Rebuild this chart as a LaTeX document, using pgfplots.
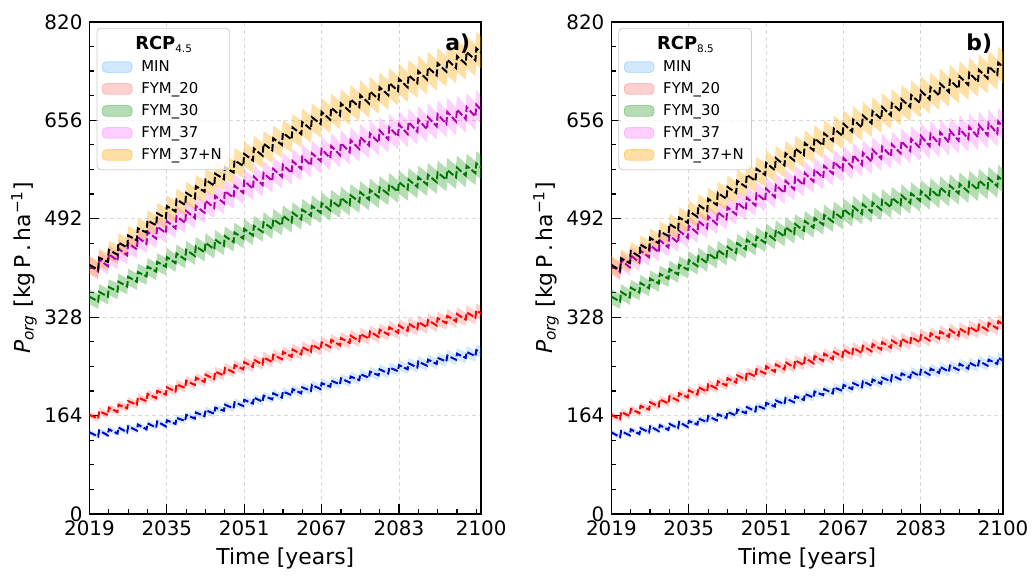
\documentclass[border=0pt]{standalone}
\usepackage{fontspec}
\setmainfont{DejaVu Sans}
\usepackage{pgfplots}
\usepackage{pgfplotstable}
\pgfplotsset{compat=1.18}
\usepgfplotslibrary{fillbetween}

\definecolor{bMIN}{HTML}{1E90FF}
\definecolor{bF20}{HTML}{FF0000}
\definecolor{bF30}{HTML}{2CA02C}
\definecolor{bF37}{HTML}{FF00FF}
\definecolor{bF37N}{HTML}{FFA500}
\definecolor{lMIN}{HTML}{0008C8}
\definecolor{lF20}{HTML}{FF0000}
\definecolor{lF30}{HTML}{007800}
\definecolor{lF37}{HTML}{B000B0}
\definecolor{lF37N}{HTML}{000000}

% mean of the ensemble, P_org in kg P/ha
\pgfplotstableread{
t mn f20 f30 f37 f37n
2019 136 165 362 415 415
2020.8 129 159 354 404 407
2021 139 171 370 424 427
2022.8 131 165 362 413 420
2023 141 177 378 433 440
2024.8 134 170 371 422 432
2025 144 182 387 442 452
2026.8 136 176 379 431 444
2027 146 188 395 451 464
2028.8 139 182 387 441 456
2029 149 194 403 461 476
2030.8 141 188 396 450 469
2031 151 200 412 470 489
2032.8 144 193 404 459 481
2033 154 205 420 479 501
2034.8 146 199 412 468 493
2035 156 211 428 488 513
2036.8 150 204 418 476 504
2037 160 216 434 496 524
2038.8 155 210 424 485 515
2039 165 222 440 505 535
2040.8 159 215 430 493 526
2041 169 227 446 513 546
2042.8 163 220 436 502 537
2043 173 232 452 522 557
2044.8 167 225 441 510 547
2045 177 237 457 530 567
2046.8 172 231 447 518 558
2047 182 243 463 538 578
2048.8 176 236 453 527 569
2049 186 248 469 547 589
2050.8 180 241 459 535 580
2051 190 253 475 555 600
2052.8 184 245 464 542 589
2053 194 257 480 562 609
2054.8 187 249 470 548 597
2055 197 261 486 568 617
2056.8 191 253 475 555 606
2057 201 265 491 575 626
2058.8 194 258 481 562 615
2059 204 270 497 582 635
2060.8 198 262 486 568 624
2061 208 274 502 588 644
2062.8 201 266 491 575 633
2063 211 278 507 595 653
2064.8 205 270 497 581 641
2065 215 282 513 601 661
2066.8 208 274 502 588 650
2067 218 286 518 608 670
2068.8 212 278 506 593 657
2069 222 290 522 613 677
2070.8 216 281 511 598 664
2071 226 293 527 618 684
2072.8 219 285 515 603 671
2073 229 297 531 623 691
2074.8 223 288 520 608 678
2075 233 300 536 628 698
2076.8 227 292 524 614 684
2077 237 304 540 634 704
2078.8 231 295 528 619 691
2079 241 307 544 639 711
2080.8 234 299 533 624 698
2081 244 311 549 644 718
2082.8 238 302 537 629 705
2083 248 314 553 649 725
2084.8 241 305 541 633 711
2085 251 317 557 653 731
2086.8 244 308 545 637 718
2087 254 320 561 657 738
2088.8 247 311 549 641 724
2089 257 323 565 661 744
2090.8 250 314 553 646 731
2091 260 326 569 666 751
2092.8 254 318 557 650 737
2093 264 330 573 670 757
2094.8 257 321 561 654 743
2095 267 333 577 674 763
2096.8 260 324 564 658 750
2097 270 336 580 678 770
2098.8 263 327 568 662 756
2099 273 339 584 682 776
2100.8 266 330 572 666 763
}\tabA

\pgfplotstableread{
t mn f20 f30 f37 f37n
2019 136 165 362 415 415
2020.8 128 158 354 403 406
2021 138 170 370 423 426
2022.8 131 163 361 411 418
2023 141 175 377 431 438
2024.8 133 168 369 419 429
2025 143 180 385 439 449
2026.8 136 174 376 428 440
2027 146 186 392 448 460
2028.8 138 179 384 436 451
2029 148 191 400 456 471
2030.8 140 184 392 444 463
2031 150 196 408 464 483
2032.8 143 189 399 452 474
2033 153 201 415 472 494
2034.8 145 194 407 460 485
2035 155 206 423 480 505
2036.8 149 199 413 468 495
2037 159 211 429 488 515
2038.8 153 204 418 476 505
2039 163 216 434 496 525
2040.8 156 209 424 483 515
2041 166 221 440 503 535
2042.8 160 214 429 491 525
2043 170 226 445 511 545
2044.8 164 219 435 499 535
2045 174 231 451 519 555
2046.8 168 224 441 507 545
2047 178 236 457 527 565
2048.8 171 229 446 514 555
2049 181 241 462 534 575
2050.8 175 234 452 522 565
2051 185 246 468 542 585
2052.8 179 237 457 528 573
2053 189 249 473 548 593
2054.8 183 241 462 535 581
2055 193 253 478 555 601
2056.8 186 244 467 541 589
2057 196 256 483 561 609
2058.8 190 248 472 548 598
2059 200 260 488 568 618
2060.8 194 251 477 554 606
2061 204 263 493 574 626
2062.8 198 255 482 560 614
2063 208 267 498 580 634
2064.8 201 258 487 567 622
2065 211 270 503 587 642
2066.8 205 262 492 573 630
2067 215 274 508 593 650
2068.8 208 265 496 578 637
2069 218 277 512 598 657
2070.8 211 268 500 582 644
2071 221 280 516 602 664
2072.8 214 271 503 587 651
2073 224 283 519 607 671
2074.8 217 274 507 592 658
2075 227 286 523 612 678
2076.8 221 277 511 596 664
2077 231 289 527 616 684
2078.8 224 280 515 601 671
2079 234 292 531 621 691
2080.8 227 283 518 605 678
2081 237 295 534 625 698
2082.8 230 286 522 610 685
2083 240 298 538 630 705
2084.8 232 289 525 613 691
2085 242 301 541 633 711
2086.8 235 292 528 616 697
2087 245 304 544 636 717
2088.8 237 295 531 619 703
2089 247 307 547 639 723
2090.8 240 297 534 622 709
2091 250 309 550 642 729
2092.8 242 300 537 625 715
2093 252 312 553 645 735
2094.8 245 303 540 628 720
2095 255 315 556 648 740
2096.8 247 306 543 631 726
2097 257 318 559 651 746
2098.8 250 309 546 634 732
2099 260 321 562 654 752
2100.8 252 312 549 637 738
}\tabB

% #1 table, #2 column, #3 band colour, #4 band opacity, #5 line colour
\newcommand{\series}[5]{%
  \addplot[draw=none, forget plot, name path=#2H] table[x=t, y expr=\thisrow{#2}*1.035] {#1};
  \addplot[draw=none, forget plot, name path=#2L] table[x=t, y expr=\thisrow{#2}*0.965] {#1};
  \addplot[fill=#3, fill opacity=#4, draw=none, forget plot] fill between[of=#2H and #2L];
  \addplot[#5, line width=1pt, dash pattern=on 3.5pt off 1.3pt, forget plot] table[x=t, y=#2] {#1};
}
\pgfplotsset{
  bandpatch/.style={legend image code/.code={\draw[##1] (0pt,-2.7pt) rectangle (15pt,2.7pt);}},
}
\newcommand{\legendset}[1]{%
  \addlegendimage{empty legend}
  \addlegendentry{\hspace*{-3pt}{\fontsize{9}{10}\selectfont\bfseries RCP}\textsubscript{#1}}
  \addlegendimage{bandpatch, fill=bMIN, fill opacity=0.2, draw=bMIN, draw opacity=0.25}
  \addlegendentry{MIN}
  \addlegendimage{bandpatch, fill=bF20, fill opacity=0.18, draw=bF20, draw opacity=0.2}
  \addlegendentry{FYM\_20}
  \addlegendimage{bandpatch, fill=bF30, fill opacity=0.35, draw=bF30, draw opacity=0.4}
  \addlegendentry{FYM\_30}
  \addlegendimage{bandpatch, fill=bF37, fill opacity=0.18, draw=bF37, draw opacity=0.2}
  \addlegendentry{FYM\_37}
  \addlegendimage{bandpatch, fill=bF37N, fill opacity=0.35, draw=bF37N, draw opacity=0.4}
  \addlegendentry{FYM\_37+N}
}

\pgfplotsset{
  panel/.style={
    scale only axis, width=197pt, height=247.5pt,
    xmin=2019, xmax=2100, ymin=0, ymax=820,
    xtick={2019,2035,2051,2067,2083,2100},
    minor xtick={2019,2023,...,2099},
    ytick={0,164,328,492,656,820},
    minor ytick={0,41,...,820},
    tick align=inside, xtick pos=bottom, ytick pos=left,
    major tick length=5pt, minor tick length=2.5pt,
    tick style={black, line width=0.6pt},
    axis line style={line width=0.9pt},
    xmajorgrids, ymajorgrids,
    major grid style={dash pattern=on 2pt off 1.5pt, gray!30, line width=0.4pt},
    /pgf/number format/assume math mode=true,
    /pgf/number format/1000 sep={},
    ticklabel style={font=\fontsize{10}{12}\selectfont},
    label style={font=\fontsize{11}{13}\selectfont},
    xlabel={Time [years]},
    ylabel={{\itshape P}\textsubscript{\itshape org} [kg\,P\,.\,ha\textsuperscript{−1}]},
    ylabel style={yshift=-3pt},
    xlabel style={yshift=1pt},
    legend cell align=left,
    legend style={at={(0.018,0.988)}, anchor=north west, draw=gray!40,
      rounded corners=2pt, fill=white, fill opacity=0.8, text opacity=1,
      font=\fontsize{7.5}{9}\selectfont, row sep=1.2pt, inner sep=2.5pt,
      nodes={inner sep=1.4pt}, column sep=3pt},
  }
}

\begin{document}
\begin{tikzpicture}
\begin{axis}[panel]
  \legendset{4.5}
  \series{\tabA}{mn}{bMIN}{0.2}{lMIN}
  \series{\tabA}{f20}{bF20}{0.18}{lF20}
  \series{\tabA}{f30}{bF30}{0.35}{lF30}
  \series{\tabA}{f37}{bF37}{0.18}{lF37}
  \series{\tabA}{f37n}{bF37N}{0.35}{lF37N}
  \node[anchor=north east, font=\bfseries\fontsize{11}{13}\selectfont] at (rel axis cs:0.99,0.99) {a)};
  \coordinate (topA) at (rel axis cs:0,1);
\end{axis}
\begin{axis}[panel, at={(262.5pt,0)}]
  \legendset{8.5}
  \series{\tabB}{mn}{bMIN}{0.2}{lMIN}
  \series{\tabB}{f20}{bF20}{0.18}{lF20}
  \series{\tabB}{f30}{bF30}{0.35}{lF30}
  \series{\tabB}{f37}{bF37}{0.18}{lF37}
  \series{\tabB}{f37n}{bF37N}{0.35}{lF37N}
  \node[anchor=north east, font=\bfseries\fontsize{11}{13}\selectfont] at (rel axis cs:0.99,0.99) {b)};
\end{axis}
\path (topA) ++(-45pt,11pt);
\end{tikzpicture}
\end{document}
